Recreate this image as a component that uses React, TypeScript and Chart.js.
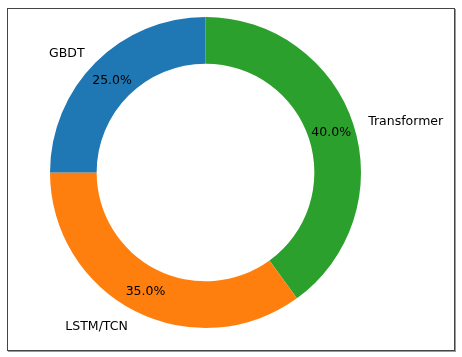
import React, { useEffect, useRef } from "react";
import { Chart, registerables } from "chart.js";

Chart.register(...registerables);

const categories = ["GBDT", "LSTM/TCN", "Transformer"];
const values = [25, 35, 40];
const colors = ["#1f77b4", "#ff7f0e", "#2ca02c"];

const FONT = '12.5px "DejaVu Sans"';

const labelPlugin = {
  id: "pieLabels",
  afterDatasetsDraw(chart: any) {
    const ctx = chart.ctx;
    const meta = chart.getDatasetMeta(0);
    const ds = chart.data.datasets[0];
    const total = (ds.data as number[]).reduce((a: number, b: number) => a + b, 0);
    ctx.save();
    ctx.font = FONT;
    ctx.fillStyle = "#000";
    ctx.textBaseline = "middle";
    meta.data.forEach((arc: any, i: number) => {
      const { x, y, startAngle, endAngle, outerRadius } = arc.getProps(
        ["x", "y", "startAngle", "endAngle", "outerRadius"],
        true
      );
      const mid = (startAngle + endAngle) / 2;
      const c = Math.cos(mid);
      const s = Math.sin(mid);
      const pr = outerRadius * 0.85;
      ctx.textAlign = "center";
      const pct = ((ds.data[i] / total) * 100).toFixed(1) + "%";
      ctx.fillText(pct, x + pr * c, y + pr * s + 1.5);
      const lr = outerRadius * 1.1;
      const lx = x + lr * c;
      ctx.textAlign = c > 0 ? "left" : "right";
      ctx.fillText(chart.data.labels[i], lx, y + lr * s + 2);
    });
    ctx.restore();
  },
};

export default function App() {
  const ref = useRef<HTMLCanvasElement>(null);
  useEffect(() => {
    if (!ref.current) return;
    const labels = [...categories].reverse();
    const data = [...values].reverse();
    const bg = [...colors].reverse();
    const chart = new Chart(ref.current, {
      type: "doughnut",
      data: {
        labels,
        datasets: [
          {
            data,
            backgroundColor: bg,
            borderWidth: 0,
            hoverOffset: 0,
          },
        ],
      },
      options: {
        responsive: false,
        devicePixelRatio: 1,
        animation: false,
        cutout: "70%",
        rotation: 0,
        layout: { padding: { left: 50, right: 101, top: 17, bottom: 29 } },
        plugins: {
          legend: { display: false },
          tooltip: { enabled: false },
        },
      },
      plugins: [labelPlugin],
    });
    return () => chart.destroy();
  }, []);
  return (
    <div style={{ position: "absolute", left: 0, top: 0, width: 462, height: 357, background: "#fff" }}>
      <div
        style={{
          position: "absolute",
          left: 7,
          top: 8,
          width: 448,
          height: 343,
          boxSizing: "border-box",
          border: "1px solid #444",
          boxShadow: "1px 1px 0 #999",
        }}
      />
      <canvas ref={ref} width={462} height={357} style={{ position: "absolute", left: 0, top: 0 }} />
    </div>
  );
}
